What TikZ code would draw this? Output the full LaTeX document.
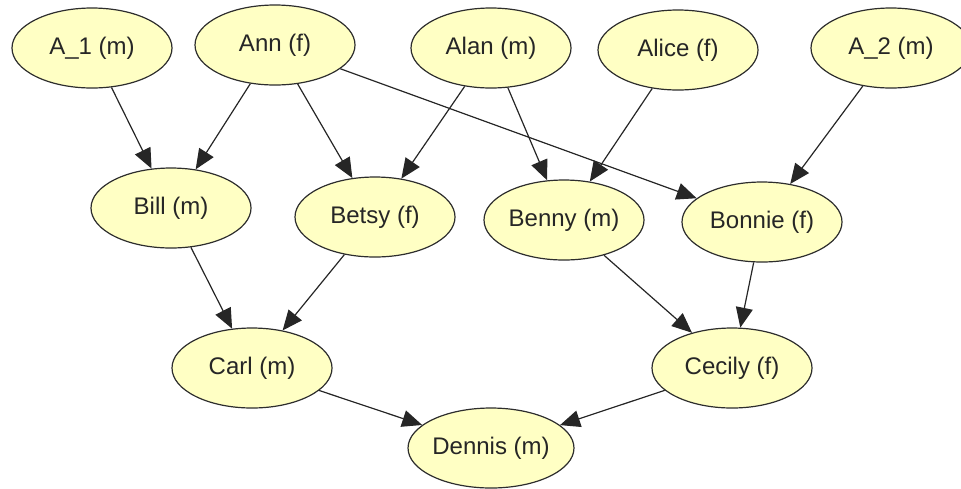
\documentclass[tikz,border=0pt]{standalone}
\usepackage{fontspec}
\setmainfont{Liberation Sans}
\usetikzlibrary{shapes.geometric,arrows.meta}
\definecolor{pale}{RGB}{255,255,196}
\definecolor{rim}{RGB}{45,45,45}
\begin{document}
\begin{tikzpicture}[x=0.5pt,y=-0.5pt]
  \tikzstyle{person}=[ellipse,draw=rim,fill=pale,line width=0.6pt,minimum width=80pt,minimum height=40pt,inner sep=0pt,font=\fontsize{12}{14}\selectfont,text=black!85]
  \tikzstyle{kin}=[-{Triangle[length=10pt,width=8.5pt]},line width=0.6pt,draw=black!85]
  \useasboundingbox (0,0) rectangle (961,488);
  \node[person] (a1) at (92,48) {A\_1 (m)};
  \node[person] (ann) at (275,45) {Ann (f)};
  \node[person] (alan) at (491,48) {Alan (m)};
  \node[person] (alice) at (678,50) {Alice (f)};
  \node[person] (a2) at (891,48) {A\_2 (m)};
  \node[person] (bill) at (171,208) {Bill (m)};
  \node[person] (betsy) at (375,217) {Betsy (f)};
  \node[person] (benny) at (564,220) {Benny (m)};
  \node[person] (bonnie) at (762,222) {Bonnie (f)};
  \node[person] (carl) at (252,368) {Carl (m)};
  \node[person] (cecily) at (732,368) {Cecily (f)};
  \node[person] (dennis) at (491,448) {Dennis (m)};
  \draw[kin] (a1) -- (bill);
  \draw[kin] (ann) -- (bill);
  \draw[kin] (ann) -- (betsy);
  \draw[kin] (ann) -- (bonnie);
  \draw[kin] (alan) -- (betsy);
  \draw[kin] (alan) -- (benny);
  \draw[kin] (alice) -- (benny);
  \draw[kin] (a2) -- (bonnie);
  \draw[kin] (bill) -- (carl);
  \draw[kin] (betsy) -- (carl);
  \draw[kin] (benny) -- (cecily);
  \draw[kin] (bonnie) -- (cecily);
  \draw[kin] (carl) -- (dennis);
  \draw[kin] (cecily) -- (dennis);
\end{tikzpicture}
\end{document}
